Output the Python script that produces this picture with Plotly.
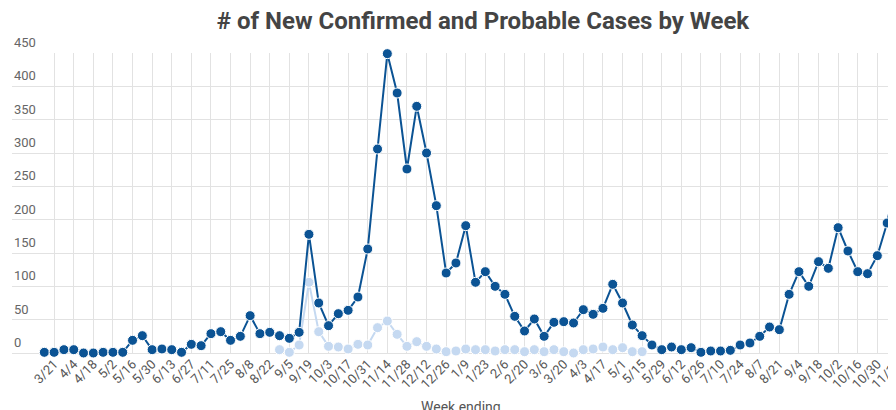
import pandas as pd
import plotly.graph_objects as go

# Week-ending dates (weekly, Saturdays)
week_start = "2020-03-14"
n_weeks = 88
weeks = pd.date_range(week_start, periods=n_weeks, freq="7D")

confirmed = [1, 1, 5, 5, 0, 0, 1, 1, 1, 19,
             26, 5, 6, 5, 1, 13, 11, 29, 32, 19,
             25, 56, 29, 31, 26, 22, 31, 178, 75, 41,
             59, 64, 84, 156, 306, 449, 390, 276, 370, 300,
             221, 120, 135, 191, 106, 122, 100, 88, 55, 33,
             51, 25, 46, 47, 45, 65, 58, 67, 103, 75,
             42, 26, 12, 5, 9, 5, 8, 1, 3, 3,
             4, 12, 15, 25, 39, 35, 88, 122, 100, 137,
             127, 188, 153, 122, 119, 146, 195, 268]

probable_first_week = 24
probable_vals = [5, 1, 12, 106, 32, 10, 9, 6, 13, 12,
                 38, 48, 28, 10, 17, 10, 6, 2, 3, 6,
                 5, 5, 3, 5, 5, 2, 5, 2, 5, 2,
                 0, 5, 6, 9, 5, 8, 2, 2]
probable = [None] * probable_first_week + probable_vals
probable += [None] * (n_weeks - len(probable))

tick_dates = list(weeks[1::2])
tick_labels = [f"{d.month}/{d.day}" for d in tick_dates]

y_ticks = [0, 50, 100, 150, 200, 250, 300, 350, 400, 450]

dark = "#0b5394"
light = "#c5d9f1"

fig = go.Figure()
fig.add_trace(go.Scatter(
    x=weeks, y=probable, mode="lines+markers", name="Probable",
    line=dict(color=light, width=2),
    marker=dict(size=10, color=light, line=dict(color="white", width=1)),
    connectgaps=False, cliponaxis=False,
))
fig.add_trace(go.Scatter(
    x=weeks, y=confirmed, mode="lines+markers", name="Confirmed",
    line=dict(color=dark, width=2),
    marker=dict(size=10, color=dark, line=dict(color="white", width=1)),
    cliponaxis=False,
))

# page body adds an 8px offset; layout compensates for it
x0 = weeks[0] - pd.Timedelta(days=3.3 * 7)
x1 = weeks[0] + pd.Timedelta(days=87.72 * 7)

grid = "#e2e2e2"
annotations = [dict(text=str(v), xref="paper", yref="y", x=0, y=v,
                    xanchor="left", yanchor="bottom", yshift=1, showarrow=False,
                    font=dict(size=13, color="#666"))
               for v in y_ticks]
annotations.append(dict(text="Week ending", xref="paper", yref="paper",
                        x=(453 - 4) / 892, y=-(399 - 345) / 300,
                        xanchor="center", yanchor="middle", showarrow=False,
                        font=dict(size=14, color="#555")))

fig.update_layout(
    width=896, height=410,
    margin=dict(l=4, r=0, t=45, b=65),
    paper_bgcolor="white", plot_bgcolor="white",
    showlegend=False,
    font=dict(family="Roboto, sans-serif", color="#555", size=13),
    title=dict(text="<b># of New Confirmed and Probable Cases by Week</b>",
               x=475 / 896, xref="container", xanchor="center",
               y=1 - 13 / 410, yref="container", yanchor="middle",
               font=dict(family="Roboto, sans-serif", size=24, color="#444")),
    xaxis=dict(type="date", range=[x0, x1], automargin=False,
               tickmode="array", tickvals=tick_dates, ticktext=tick_labels,
               tickangle=-45, showgrid=True, gridcolor=grid, gridwidth=1,
               showline=False, zeroline=False, ticks="",
               tickfont=dict(size=13, color="#555")),
    yaxis=dict(range=[0, 450], tickmode="array", tickvals=y_ticks,
               showticklabels=False, automargin=False,
               showgrid=True, gridcolor=grid,
               gridwidth=1, zeroline=True, zerolinecolor=grid, zerolinewidth=1,
               showline=False, ticks=""),
    annotations=annotations,
)

fig.write_html("out.html")
